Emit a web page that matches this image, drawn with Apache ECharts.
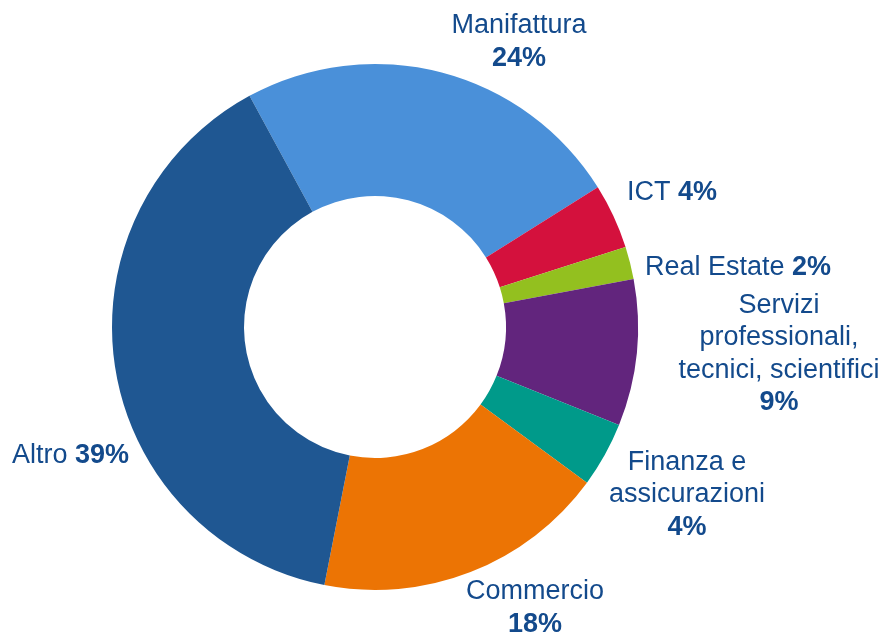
<!DOCTYPE html>
<html>
<head>
<meta charset="utf-8">
<script src="https://cdn.jsdelivr.net/npm/echarts@6/dist/echarts.min.js"></script>
<style>
  html, body { margin: 0; padding: 0; background: #fff; }
  #chart { width: 890px; height: 635px; }
</style>
</head>
<body>
<div id="chart"></div>
<script>
// data, clockwise from the top
var categories = ['Manifattura', 'ICT', 'Real Estate', 'Servizi\nprofessionali,\ntecnici, scientifici', 'Finanza e\nassicurazioni', 'Commercio', 'Altro'];
var shares = [24, 4, 2, 9, 4, 18, 39];
var colors = ['#4a90d9', '#d4113d', '#93c01f', '#62257d', '#009a8a', '#ec7404', '#1f5792'];

// where each label sits: [x, y, align, percent on same line?]
var labelPos = [
    [519, 42, 'center', false],
    [627, 193, 'left', true],
    [645, 268, 'left', true],
    [779, 354, 'center', false],
    [687, 495, 'center', false],
    [535, 608, 'center', false],
    [12, 456, 'left', true]
];

var textColor = '#134a8c';

var chart = echarts.init(document.getElementById('chart'));

var option = {
    backgroundColor: '#fff',
    textStyle: {fontFamily: 'Liberation Sans, Arial, sans-serif'},
    series: [
        {
            type: 'pie',
            center: [375, 327],
            radius: [131, 263],
            startAngle: 118.5,
            clockwise: true,
            silent: true,
            avoidLabelOverlap: false,
            itemStyle: {borderWidth: 0},
            label: {
                show: true,
                position: 'outside',
                overflow: 'none',
                edgeDistance: 0,
                bleedMargin: 0,
                formatter: function (p) {
                    var lines = p.name.split('\n').map(function (l) { return '{n|' + l + '}'; }).join('\n');
                    var pct = '{p|' + p.value + '%}';
                    return labelPos[p.dataIndex][3] ? lines + '{n| }' + pct : lines + '\n' + pct;
                },
                rich: {
                    n: {fontSize: 27, color: textColor, lineHeight: 32.5, fontFamily: 'Liberation Sans'},
                    p: {fontSize: 27, color: textColor, lineHeight: 32.5, fontWeight: 'bold', fontFamily: 'Liberation Sans'}
                }
            },
            labelLine: {show: false},
            labelLayout: function (params) {
                var lp = labelPos[params.dataIndex];
                return {x: lp[0], y: lp[1], align: lp[2], verticalAlign: 'middle'};
            },
            data: categories.map(function (c, i) {
                return {name: c, value: shares[i], itemStyle: {color: colors[i]}, label: {align: labelPos[i][2]}};
            })
        }
    ]
};

chart.setOption(option);
</script>
</body>
</html>
